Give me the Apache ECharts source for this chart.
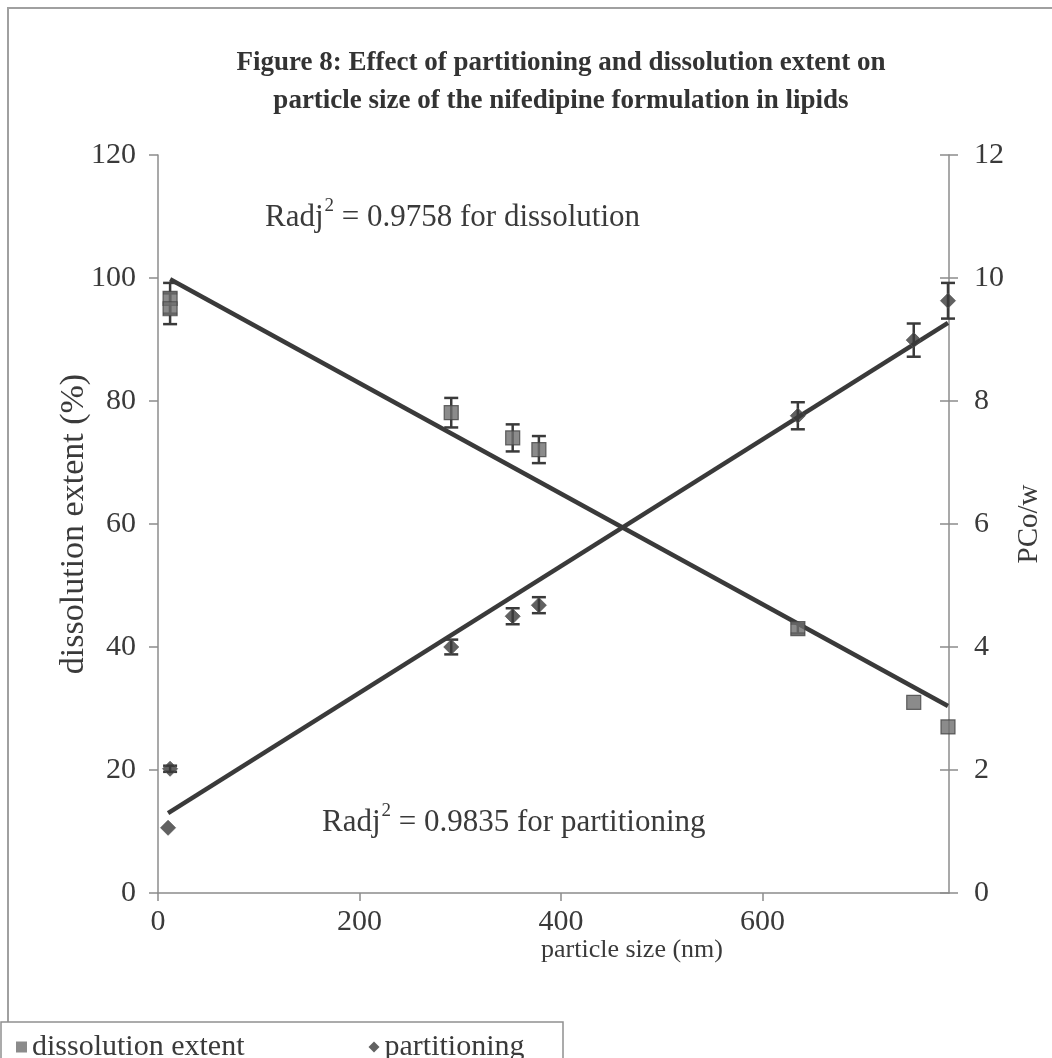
<!DOCTYPE html>
<html>
<head>
<meta charset="utf-8">
<script src="https://cdn.jsdelivr.net/npm/echarts@6/dist/echarts.min.js"></script>
<style>
  html, body { margin: 0; padding: 0; background: #fff; }
  #chart { width: 1052px; height: 1058px; }
</style>
</head>
<body>
<div id="chart"></div>
<script>
// Particle size (nm) of each formulation
const particleSize = [12, 12, 291, 352, 378, 635, 750, 784];
const partSize = [12, 10, 291, 352, 378, 635, 750, 784];

// Dissolution extent (%) and its error (±)
const dissolution = [96.7, 95.0, 78.1, 74.0, 72.1, 43.0, 31.0, 27.0];
const dissolutionErr = [2.5, 2.5, 2.4, 2.2, 2.2, 0.8, 0, 0];

// Partition coefficient PCo/w and its error (±)
const partitioning = [2.02, 1.06, 4.0, 4.5, 4.68, 7.76, 8.99, 9.63];
const partitioningErr = [0.05, 0, 0.12, 0.13, 0.13, 0.22, 0.27, 0.29];

// Linear trend lines [x, y] end points
const dissolutionTrend = [[12, 99.8], [784, 30.4]];
const partitioningTrend = [[10, 1.3], [784, 9.27]];

// Axis settings
const xTicks = { min: 0, max: 785, interval: 200 };
const leftTicks = { min: 0, max: 120, interval: 20 };
const rightTicks = { min: 0, max: 12, interval: 2 };

const ink = '#3a3a3a';
const axisGrey = '#8c8c8c';
const serif = '"Liberation Serif", "Times New Roman", serif';

function pairs(xs, ys) { return xs.map((x, i) => [x, ys[i]]); }
function errData(xs, ys, es) { return xs.map((x, i) => [x, ys[i], es[i]]); }

function errorBars(params, api) {
  const e = api.value(2);
  if (!e) return null;
  const x = api.value(0), y = api.value(1);
  const hi = api.coord([x, y + e]);
  const lo = api.coord([x, y - e]);
  const w = 7;
  const style = { stroke: ink, lineWidth: 2.5 };
  return {
    type: 'group',
    children: [
      { type: 'line', shape: { x1: hi[0], y1: hi[1], x2: lo[0], y2: lo[1] }, style },
      { type: 'line', shape: { x1: hi[0] - w, y1: hi[1], x2: hi[0] + w, y2: hi[1] }, style },
      { type: 'line', shape: { x1: lo[0] - w, y1: lo[1], x2: lo[0] + w, y2: lo[1] }, style }
    ]
  };
}

function rSquaredText(value, label) {
  return {
    text: '{t|Radj}{s|2}{t| = ' + value + ' for ' + label + '}',
    rich: {
      t: { fontFamily: serif, fontSize: 31, fill: ink, lineHeight: 36, verticalAlign: 'bottom' },
      s: { fontFamily: serif, fontSize: 19, fill: ink, lineHeight: 36, verticalAlign: 'top', padding: [0, 0, 16, 1] }
    }
  };
}

const chart = echarts.init(document.getElementById('chart'), null, { renderer: 'canvas' });

chart.setOption({
  backgroundColor: '#fff',
  animation: false,
  title: {
    text: 'Figure 8: Effect of partitioning and dissolution extent on\nparticle size of the nifedipine formulation in lipids',
    left: 556,
    top: 39,
    textAlign: 'center',
    textStyle: { fontFamily: serif, fontWeight: 'bold', fontSize: 27, lineHeight: 38, color: '#333' }
  },
  legend: {
    left: 11,
    top: 1027,
    itemWidth: 11,
    itemHeight: 11,
    itemGap: 124,
    textStyle: { fontFamily: serif, fontSize: 30, color: ink },
    data: [
      { name: 'dissolution extent', icon: 'rect', itemStyle: { color: '#6e6e6e', borderWidth: 0 } },
      { name: 'partitioning', icon: 'diamond', itemStyle: { color: ink, borderWidth: 0 } }
    ]
  },
  grid: { left: 158, right: 101, top: 155, bottom: 165, containLabel: false },
  xAxis: {
    type: 'value',
    min: xTicks.min, max: xTicks.max, interval: xTicks.interval,
    axisLine: { show: true, lineStyle: { color: axisGrey, width: 1.5 } },
    axisTick: { show: true, length: 8, lineStyle: { color: axisGrey, width: 1.5 } },
    axisLabel: { fontFamily: serif, fontSize: 30, color: ink, margin: 14, showMaxLabel: false },
    splitLine: { show: false }
  },
  yAxis: [
    {
      type: 'value', position: 'left',
      min: leftTicks.min, max: leftTicks.max, interval: leftTicks.interval,
      name: 'dissolution extent (%)', nameLocation: 'middle', nameGap: 67, nameRotate: 90,
      nameMoveOverlap: false,
      nameTextStyle: { fontFamily: serif, fontSize: 34, color: ink },
      axisLine: { show: true, lineStyle: { color: axisGrey, width: 1.5 } },
      axisTick: { show: true, length: 9, lineStyle: { color: axisGrey, width: 1.5 } },
      axisLabel: { fontFamily: serif, fontSize: 30, color: ink, margin: 22 },
      splitLine: { show: false }
    },
    {
      type: 'value', position: 'right',
      min: rightTicks.min, max: rightTicks.max, interval: rightTicks.interval,
      name: 'PCo/w', nameLocation: 'middle', nameGap: 66, nameRotate: 90,
      nameTextStyle: { fontFamily: serif, fontSize: 29, color: ink },
      axisLine: { show: true, lineStyle: { color: axisGrey, width: 1.5 } },
      axisTick: { show: true, length: 9, lineStyle: { color: axisGrey, width: 1.5 } },
      axisLabel: { fontFamily: serif, fontSize: 30, color: ink, margin: 25 },
      splitLine: { show: false }
    },
    {
      // inward half of the crossing ticks on the right axis
      type: 'value', position: 'right',
      min: rightTicks.min, max: rightTicks.max, interval: rightTicks.interval,
      axisLine: { show: false },
      axisTick: { show: true, inside: true, length: 9, lineStyle: { color: axisGrey, width: 1.5 } },
      axisLabel: { show: false },
      splitLine: { show: false }
    }
  ],
  series: [
    {
      name: 'dissolution trend', type: 'line', yAxisIndex: 0,
      data: dissolutionTrend, showSymbol: false, symbol: 'none',
      lineStyle: { color: ink, width: 4.5 }, z: 3, silent: true
    },
    {
      name: 'partitioning trend', type: 'line', yAxisIndex: 1,
      data: partitioningTrend, showSymbol: false, symbol: 'none',
      lineStyle: { color: ink, width: 4.5 }, z: 3, silent: true
    },
    {
      name: 'dissolution error', type: 'custom', yAxisIndex: 0,
      renderItem: errorBars, data: errData(particleSize, dissolution, dissolutionErr), z: 4
    },
    {
      name: 'partitioning error', type: 'custom', yAxisIndex: 1,
      renderItem: errorBars, data: errData(partSize, partitioning, partitioningErr), z: 4
    },
    {
      name: 'dissolution extent', type: 'scatter', yAxisIndex: 0,
      data: pairs(particleSize, dissolution),
      symbol: 'rect', symbolSize: 14,
      itemStyle: { color: '#6e6e6e', borderColor: '#444', borderWidth: 1.2 }, z: 5
    },
    {
      name: 'partitioning', type: 'scatter', yAxisIndex: 1,
      data: pairs(partSize, partitioning),
      symbol: 'diamond', symbolSize: 15,
      itemStyle: { color: ink, borderColor: '#555', borderWidth: 1 }, z: 5
    }
  ],
  graphic: [
    // outer frame
    {
      type: 'rect', z: -1, silent: true,
      shape: { x: 8, y: 8, width: 1100, height: 1100 },
      style: { fill: null, stroke: '#a0a0a0', lineWidth: 2 }
    },
    // legend frame
    {
      type: 'rect', z: 0, silent: true,
      shape: { x: 1, y: 1022, width: 562, height: 60 },
      style: { fill: '#fff', stroke: '#909090', lineWidth: 1.5 }
    },
    { type: 'text', left: 265, top: 197, silent: true, style: rSquaredText('0.9758', 'dissolution') },
    { type: 'text', left: 322, top: 802, silent: true, style: rSquaredText('0.9835', 'partitioning') },
    {
      type: 'text', x: 632, y: 950, silent: true,
      style: {
        text: 'particle size (nm)',
        fontFamily: serif, fontSize: 26, fill: ink, align: 'center', verticalAlign: 'middle'
      }
    }
  ]
});
</script>
</body>
</html>
